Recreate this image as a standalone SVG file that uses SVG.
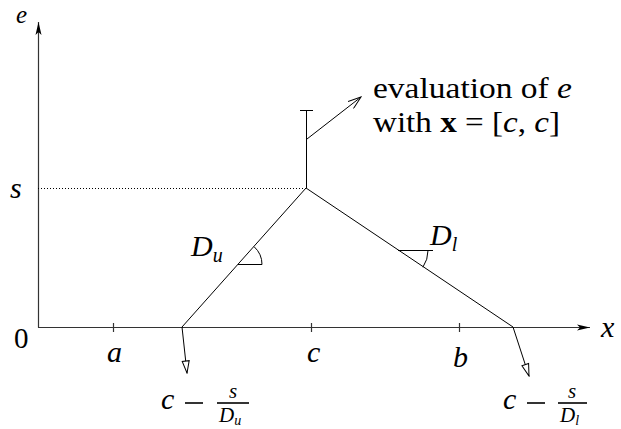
<svg xmlns="http://www.w3.org/2000/svg" width="621" height="429" viewBox="0 0 621 429">
<style>
.ln{stroke:#000;stroke-width:1;fill:none}
.ax{stroke:#333;stroke-width:1.2;fill:none}
</style>
<defs>
<marker id="ah" markerWidth="14" markerHeight="8" refX="13" refY="4" orient="auto" markerUnits="userSpaceOnUse">
<path d="M0,1 L13,4 L0,7 L3,4 Z" fill="#000"/>
</marker>
<marker id="av" markerWidth="14" markerHeight="10" refX="13" refY="5" orient="auto" markerUnits="userSpaceOnUse">
<path d="M0,0.5 L13,5 L0,9.5" fill="none" stroke="#000" stroke-width="1"/>
</marker>
<marker id="at" markerWidth="14" markerHeight="10" refX="13" refY="5" orient="auto" markerUnits="userSpaceOnUse">
<path d="M1,1.5 L13,5 L1,8.5 Z" fill="#fff" stroke="#000" stroke-width="1"/>
</marker>
</defs>
<g id="axes">
<line class="ax" x1="38.5" y1="327.5" x2="38.5" y2="22" marker-end="url(#ah)"/>
<line class="ax" x1="38" y1="327.5" x2="590" y2="327.5" marker-end="url(#ah)"/>
<line class="ax" x1="113.5" y1="323" x2="113.5" y2="332"/>
<line class="ax" x1="311.5" y1="323" x2="311.5" y2="332"/>
<line class="ax" x1="459.5" y1="323" x2="459.5" y2="332"/>
</g>
<g id="connectors">
<line x1="38" y1="188.5" x2="306" y2="188.5" stroke="#000" stroke-width="1" stroke-dasharray="1,2"/>
<line class="ln" x1="306.5" y1="188" x2="306.5" y2="110"/>
<line class="ln" x1="300" y1="110.5" x2="313" y2="110.5"/>
<line class="ln" x1="306" y1="188" x2="182" y2="327"/>
<line class="ln" x1="306" y1="188" x2="513" y2="327"/>
<line class="ln" x1="307" y1="139" x2="361" y2="97" marker-end="url(#av)"/>
<line class="ln" x1="182" y1="327" x2="187" y2="373" marker-end="url(#at)"/>
<line class="ln" x1="513" y1="327" x2="529" y2="376" marker-end="url(#at)"/>
<line class="ln" x1="238" y1="264.5" x2="262" y2="264.5"/>
<path class="ln" d="M262,264.5 A24,24 0 0 0 254.1,246.7"/>
<line class="ln" x1="398" y1="250.5" x2="433" y2="250.5"/>
<path class="ln" d="M428,250.5 A30,30 0 0 1 422.9,267.2"/>
</g>
<g id="labels" font-family="Liberation Serif, DejaVu Serif, serif" fill="#000">
<text font-style="italic" font-size="25" x="16" y="23">e</text>
<text font-style="italic" font-size="30" x="10" y="198">s</text>
<text font-size="29" x="14" y="348">0</text>
<text font-style="italic" font-size="30" x="601" y="337">x</text>
<text font-style="italic" font-size="30" x="107" y="362">a</text>
<text font-style="italic" font-size="30" x="307" y="362">c</text>
<text font-style="italic" font-size="30" x="453" y="367">b</text>
<text font-style="italic" font-size="30" x="191" y="256">D<tspan font-size="20" dy="6">u</tspan></text>
<text font-style="italic" font-size="30" x="430" y="245">D<tspan font-size="20" dy="6">l</tspan></text>
<text font-size="29" x="373" y="98" textLength="199" lengthAdjust="spacingAndGlyphs">evaluation of <tspan font-style="italic">e</tspan></text>
<text font-size="29" x="373" y="132" textLength="187" lengthAdjust="spacingAndGlyphs">with <tspan font-weight="bold">x</tspan> = [<tspan font-style="italic">c</tspan>, <tspan font-style="italic">c</tspan>]</text>
</g>
<g id="lbl-left" font-family="Liberation Serif, DejaVu Serif, serif" fill="#000">
<text font-style="italic" font-size="30" x="161" y="409">c</text>
<line x1="185" y1="403" x2="203" y2="403" stroke="#000" stroke-width="1.6"/>
<line x1="217" y1="403" x2="249" y2="403" stroke="#000" stroke-width="1.6"/>
<text font-style="italic" font-size="21" x="233" y="398" text-anchor="middle">s</text>
<text font-style="italic" font-size="21" x="219" y="422">D<tspan font-size="14" dy="3">u</tspan></text>
</g>
<g id="lbl-right" font-family="Liberation Serif, DejaVu Serif, serif" fill="#000">
<text font-style="italic" font-size="30" x="503" y="409">c</text>
<line x1="527" y1="403" x2="545" y2="403" stroke="#000" stroke-width="1.6"/>
<line x1="558" y1="403" x2="587" y2="403" stroke="#000" stroke-width="1.6"/>
<text font-style="italic" font-size="21" x="572" y="398" text-anchor="middle">s</text>
<text font-style="italic" font-size="21" x="560" y="422">D<tspan font-size="14" dy="3">l</tspan></text>
</g>
</svg>
